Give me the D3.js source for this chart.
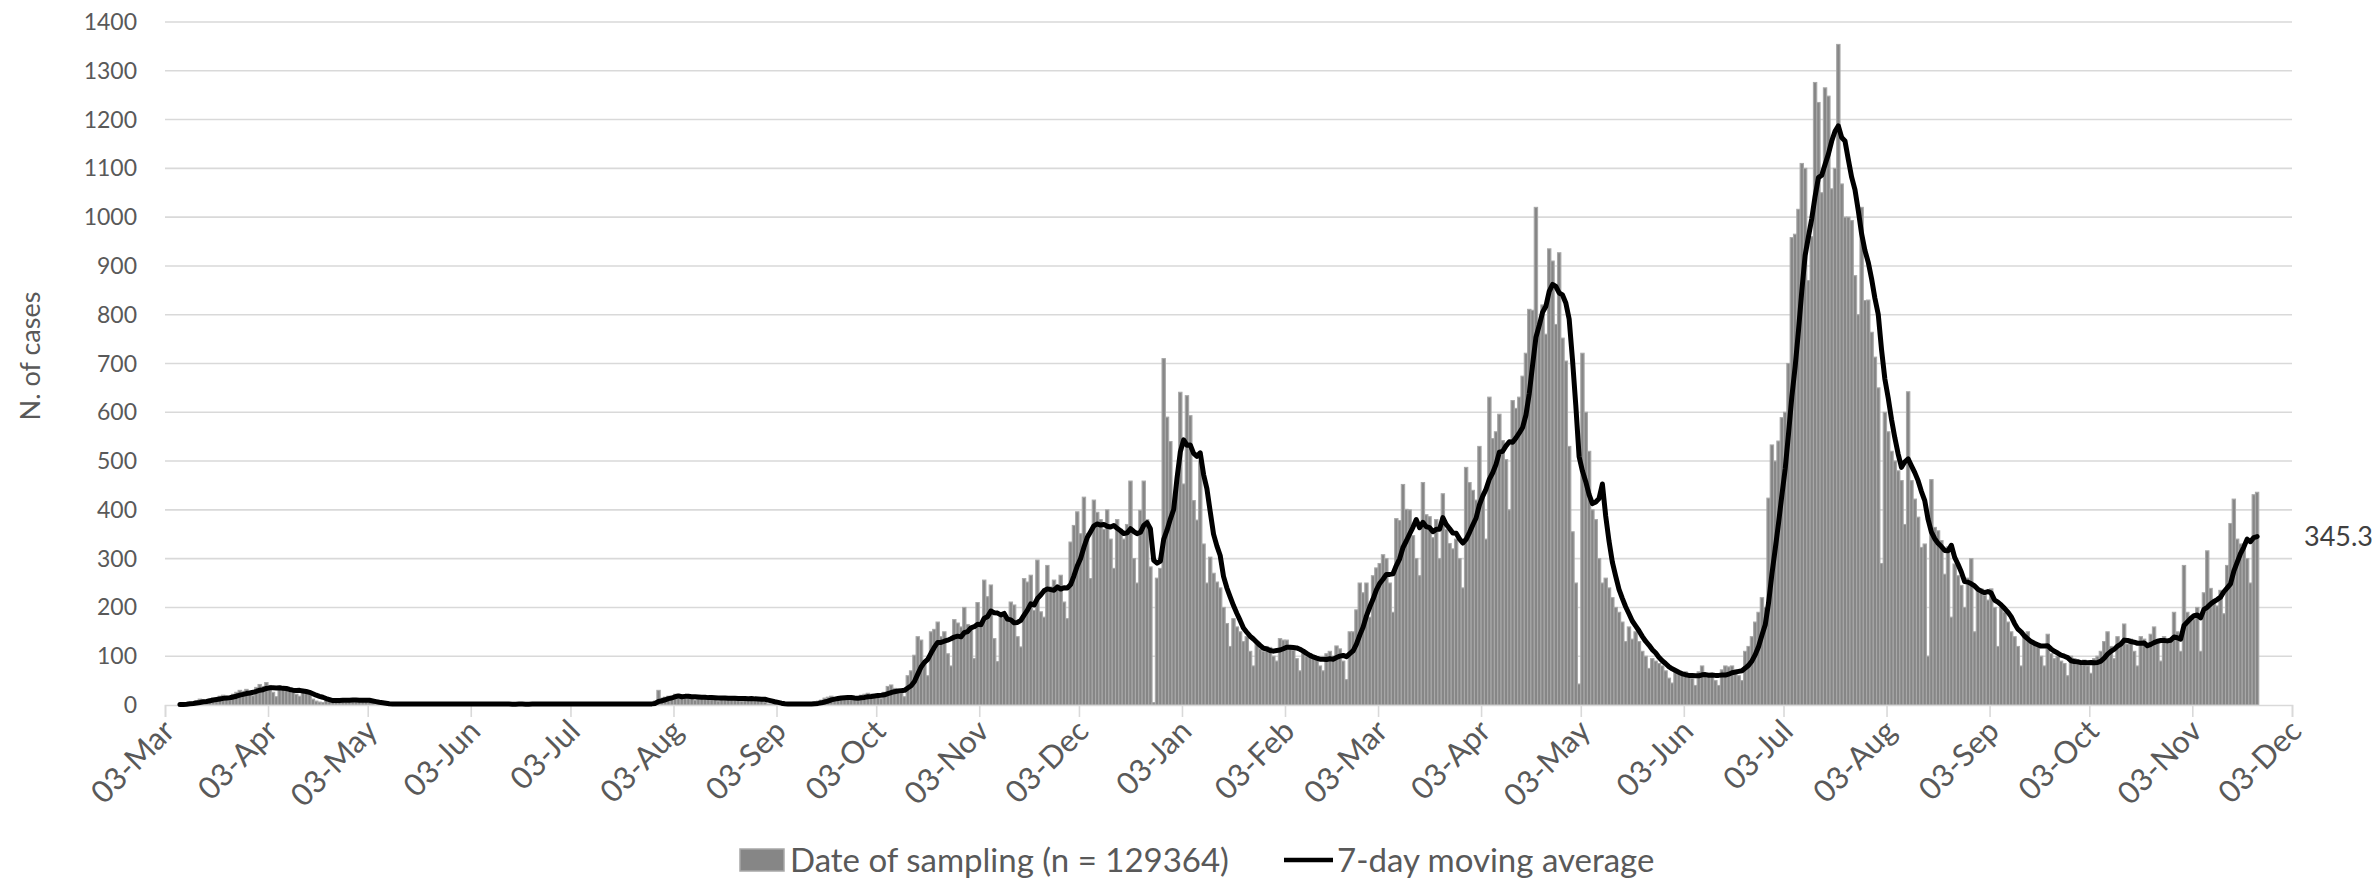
<!DOCTYPE html>
<html>
<head>
<meta charset="utf-8">
<script src="https://cdn.jsdelivr.net/npm/d3@7/dist/d3.min.js"></script>
<style>
  body { margin: 0; background: #fff; }
  text { font-family: Lato, "Open Sans", sans-serif; }
</style>
</head>
<body>
<svg id="chart" width="2377" height="881"></svg>
<script>
// first sampling day of the series
var startDate = "2020-03-07";

// daily number of cases by date of sampling (Mon..Sun rows after the first two days)
var dailyCases = [
  1, 1,
  3, 5, 6, 9, 12, 10, 6,
  12, 15, 14, 18, 20, 16, 10,
  22, 26, 30, 28, 32, 25, 19,
  36, 42, 38, 46, 40, 26, 17,
  38, 34, 36, 32, 30, 22, 18,
  30, 26, 24, 12, 8, 6, 5,
  12, 11, 10, 12, 9, 8, 6,
  13, 12, 11, 10, 9, 8, 5,
  3, 2, 2, 3, 2, 1, 1,
  2, 3, 2, 2, 3, 1, 1,
  3, 2, 2, 3, 2, 1, 1,
  2, 2, 3, 2, 2, 1, 1,
  2, 3, 2, 2, 2, 1, 1,
  3, 2, 2, 2, 3, 1, 0,
  2, 2, 3, 2, 2, 1, 1,
  2, 2, 3, 2, 2, 1, 1,
  3, 2, 2, 3, 2, 1, 1,
  2, 3, 2, 2, 3, 1, 1,
  2, 2, 3, 2, 2, 1, 1,
  3, 2, 2, 3, 2, 2, 1,
  4, 8, 30, 14, 16, 18, 10,
  22, 20, 18, 20, 16, 14, 10,
  18, 16, 17, 15, 16, 12, 8,
  16, 15, 14, 16, 15, 11, 8,
  14, 13, 15, 12, 13, 9, 6,
  2, 2, 3, 2, 2, 1, 1,
  2, 3, 2, 2, 3, 1, 1,
  6, 8, 10, 14, 16, 18, 12,
  15, 16, 14, 18, 15, 11, 9,
  20, 22, 24, 22, 21, 18, 13,
  26, 38, 41, 34, 30, 24, 17,
  60, 70, 102, 140, 133, 90, 60,
  150, 155, 170, 140, 150, 105, 80,
  175, 168, 160, 200, 165, 160, 95,
  210, 160, 256, 222, 246, 136, 89,
  184, 181, 174, 211, 205, 140, 119,
  259, 252, 266, 194, 297, 191, 180,
  286, 242, 256, 242, 266, 211, 177,
  334, 368, 396, 351, 426, 351, 259,
  420, 395, 380, 360, 400, 340, 280,
  380, 360, 340, 370, 459, 300, 250,
  399, 459, 380, 283, 5, 260, 280,
  710, 590, 540, 420, 450, 641, 453,
  634, 593, 419, 379, 500, 330, 250,
  303, 270, 252, 240, 200, 167, 120,
  177, 160, 150, 130, 140, 110, 80,
  130, 115, 110, 120, 118, 100, 90,
  136, 133, 133, 120, 112, 95, 70,
  110, 100, 105, 98, 95, 80, 70,
  105, 110, 100, 121, 115, 90, 52,
  150, 150, 195, 250, 230, 250, 180,
  265, 281, 290, 308, 300, 250, 190,
  382, 378, 452, 401, 400, 347, 300,
  265, 456, 390, 386, 343, 380, 300,
  433, 360, 331, 320, 340, 300, 240,
  487, 456, 440, 420, 530, 425, 340,
  631, 546, 560, 596, 542, 503, 400,
  624, 608, 631, 674, 721, 811, 809,
  1020, 780, 820, 760, 935, 910, 780,
  927, 752, 705, 530, 355, 250, 43,
  721, 600, 520, 400, 380, 300, 250,
  260, 240, 220, 200, 190, 170, 130,
  160, 135, 150, 130, 110, 100, 75,
  95, 90, 85, 80, 70, 55, 45,
  70, 65, 62, 68, 60, 55, 40,
  68, 80, 65, 60, 62, 50, 40,
  72, 80, 78, 80, 72, 60, 50,
  110, 120, 140, 170, 190, 220, 200,
  424, 533, 500, 541, 589, 600, 700,
  958, 965, 1016, 1110, 1100, 870, 960,
  1276, 1235, 1050, 1265, 1248, 1058, 1100,
  1354, 1068, 1000, 1000, 993, 880, 800,
  1020, 829, 830, 764, 713, 650, 290,
  600, 560, 520, 500, 480, 460, 370,
  642, 460, 422, 385, 323, 330, 100,
  462, 364, 357, 337, 268, 324, 180,
  289, 265, 245, 200, 260, 300, 150,
  240, 238, 225, 215, 238, 200, 120,
  200, 190, 170, 150, 140, 120, 80,
  140, 150, 130, 125, 120, 100, 80,
  145, 105, 95, 100, 90, 85, 60,
  100, 95, 90, 88, 92, 80, 65,
  95, 100, 110, 130, 150, 120, 95,
  140, 130, 166, 125, 135, 110, 80,
  140, 135, 125, 145, 160, 130, 90,
  140, 130, 135, 190, 150, 110, 286,
  190, 180, 175, 200, 110, 230, 316,
  239, 215, 203, 235, 187, 286, 372,
  422, 340, 330, 330, 300, 250, 431,
  436
];

var axisStart = "2020-03-03";
var axisEnd = "2021-12-03";
var monthTicks = [
  "2020-03-03", "2020-04-03", "2020-05-03", "2020-06-03", "2020-07-03", "2020-08-03",
  "2020-09-03", "2020-10-03", "2020-11-03", "2020-12-03", "2021-01-03", "2021-02-03",
  "2021-03-03", "2021-04-03", "2021-05-03", "2021-06-03", "2021-07-03", "2021-08-03",
  "2021-09-03", "2021-10-03", "2021-11-03", "2021-12-03"
];
var yTicks = [0, 100, 200, 300, 400, 500, 600, 700, 800, 900, 1000, 1100, 1200, 1300, 1400];
var yTitle = "N. of cases";
var barLegend = "Date of sampling (n = 129364)";
var lineLegend = "7-day moving average";
var lastAverageLabel = "345.3";

var parse = d3.utcParse("%Y-%m-%d");
var fmt = d3.utcFormat("%d-%b");

var margin = { left: 165, right: 2292, top: 22, bottom: 705 };

var svg = d3.select("#chart");

var x = d3.scaleUtc()
  .domain([parse(axisStart), parse(axisEnd)])
  .range([margin.left, margin.right]);

var y = d3.scaleLinear()
  .domain([0, 1400])
  .range([margin.bottom, margin.top]);

var first = parse(startDate);
var data = dailyCases.map(function(v, i) {
  return { date: d3.utcDay.offset(first, i), value: v };
});

// trailing 7-day moving average (shorter window at the very start)
data.forEach(function(d, i) {
  d.avg = d3.mean(data.slice(Math.max(0, i - 6), i + 1), function(e) { return e.value; });
});

var dayW = x(d3.utcDay.offset(first, 1)) - x(first);

// gridlines
svg.append("g")
  .selectAll("line")
  .data(yTicks.filter(function(t) { return t > 0; }))
  .enter()
  .append("line")
  .attr("x1", margin.left)
  .attr("x2", margin.right)
  .attr("y1", function(d) { return y(d); })
  .attr("y2", function(d) { return y(d); })
  .attr("stroke", "#d9d9d9")
  .attr("stroke-width", 1.6);

// y labels
svg.append("g")
  .selectAll("text")
  .data(yTicks)
  .enter()
  .append("text")
  .attr("x", 137)
  .attr("y", function(d) { return y(d); })
  .attr("dy", "0.35em")
  .attr("text-anchor", "end")
  .attr("font-size", "23px")
  .attr("fill", "#595959")
  .text(function(d) { return d; });

svg.append("text")
  .attr("transform", "translate(31,356) rotate(-90)")
  .attr("text-anchor", "middle")
  .attr("dy", "0.35em")
  .attr("font-size", "27px")
  .attr("fill", "#595959")
  .text(yTitle);

// bars
svg.append("g")
  .selectAll("rect")
  .data(data)
  .enter()
  .append("rect")
  .attr("x", function(d) { return x(d.date); })
  .attr("y", function(d) { return y(d.value); })
  .attr("width", dayW)
  .attr("height", function(d) { return y(0) - y(d.value); })
  .attr("fill", "#868686")
  .attr("stroke", "#a8a8a8")
  .attr("stroke-width", 1.1);

// x axis
var xAxis = d3.axisBottom(x)
  .tickValues(monthTicks.map(parse))
  .tickSize(12)
  .tickFormat(fmt);

var gx = svg.append("g")
  .attr("transform", "translate(0," + margin.bottom + ")")
  .call(xAxis);

gx.select(".domain").attr("stroke", "#d9d9d9").attr("stroke-width", 1.6);
gx.selectAll(".tick line").attr("stroke", "#d9d9d9").attr("stroke-width", 1.6);
gx.selectAll(".tick text")
  .attr("x", 0)
  .attr("y", 0)
  .attr("dy", 0)
  .attr("font-size", "31px")
  .attr("font-family", "Lato, sans-serif")
  .attr("fill", "#595959")
  .attr("text-anchor", "end")
  .attr("transform", "translate(11,28) rotate(-45)");

// moving average line
var line = d3.line()
  .x(function(d) { return x(d.date) + dayW / 2; })
  .y(function(d) { return y(d.avg); });

svg.append("path")
  .datum(data)
  .attr("d", line)
  .attr("fill", "none")
  .attr("stroke", "#000")
  .attr("stroke-width", 5)
  .attr("stroke-linejoin", "round")
  .attr("stroke-linecap", "round");

var last = data[data.length - 1];
svg.append("text")
  .attr("x", 2304)
  .attr("y", y(last.avg))
  .attr("dy", "0.35em")
  .attr("font-size", "27px")
  .attr("fill", "#404040")
  .text(lastAverageLabel);

// legend
var lg = svg.append("g").attr("transform", "translate(0,860)");
lg.append("rect")
  .attr("x", 740).attr("y", -11)
  .attr("width", 44).attr("height", 22)
  .attr("fill", "#868686")
  .attr("stroke", "#a8a8a8")
  .attr("stroke-width", 1.5);
lg.append("text")
  .attr("x", 790).attr("y", 0).attr("dy", "0.35em")
  .attr("font-size", "33px").attr("fill", "#595959")
  .text(barLegend);
lg.append("line")
  .attr("x1", 1284).attr("x2", 1333)
  .attr("y1", 0).attr("y2", 0)
  .attr("stroke", "#000").attr("stroke-width", 4.5);
lg.append("text")
  .attr("x", 1337).attr("y", 0).attr("dy", "0.35em")
  .attr("font-size", "33px").attr("fill", "#595959")
  .text(lineLegend);
</script>
</body>
</html>
